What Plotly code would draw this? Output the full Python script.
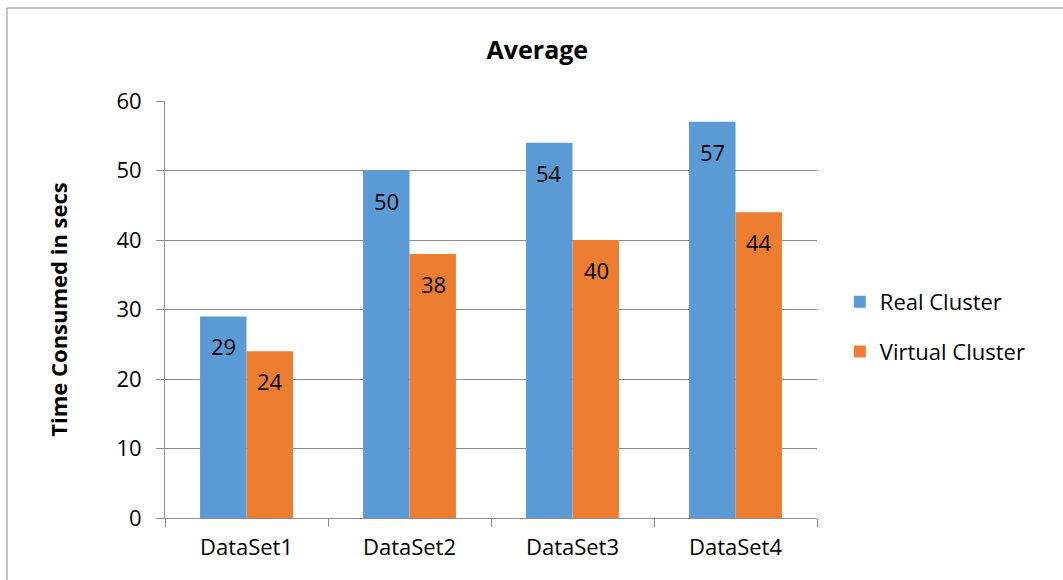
import plotly.graph_objects as go

categories = ["DataSet1", "DataSet2", "DataSet3", "DataSet4"]
real_cluster = [29, 50, 54, 57]
virtual_cluster = [24, 38, 40, 44]
y_ticks = [0, 10, 20, 30, 40, 50, 60]

FONT = "Open Sans"
BLUE = "#5B9BD5"
ORANGE = "#ED7D31"
GRID = "#8C8C8C"
SIZE = 22

fig = go.Figure()
fig.add_trace(go.Bar(name="Real Cluster", x=categories, y=real_cluster,
                     legendgroup="real",
                     marker=dict(color=BLUE, line=dict(width=0))))
fig.add_trace(go.Bar(name="Virtual Cluster", x=categories, y=virtual_cluster,
                     legendgroup="virtual",
                     marker=dict(color=ORANGE, line=dict(width=0))))

# value labels just inside the top of each bar
for i, cat in enumerate(categories):
    for vals, off in ((real_cluster, -1), (virtual_cluster, 1)):
        fig.add_annotation(x=i, xshift=off * 23.5, y=vals[i], yshift=-30,
                           text=str(vals[i]), showarrow=False,
                           font=dict(family=FONT, size=SIZE, color="#000000"),
                           xref="x", yref="y")

fig.update_layout(
    width=1063, height=580,
    margin=dict(l=165, r=246, t=101, b=62),
    paper_bgcolor="white", plot_bgcolor="white",
    barmode="group", bargap=0.43, bargroupgap=0,
    title=dict(text="<b>Average</b>", x=0.5055, xanchor="center",
               y=1 - 50 / 580, yanchor="middle",
               font=dict(family=FONT, size=25, color="#000000")),
    font=dict(family=FONT, size=SIZE, color="#000000"),
    legend=dict(x=1.035, xanchor="left", y=0.458, yanchor="middle",
                font=dict(family=FONT, size=SIZE), tracegroupgap=18,
                itemwidth=30, bgcolor="rgba(0,0,0,0)"),
    xaxis=dict(range=[-0.5, 3.5], showline=True, linecolor=GRID, linewidth=1,
               ticks="outside", tickson="boundaries", ticklen=8, tickcolor=GRID,
               showgrid=False, ticklabelstandoff=10,
               tickfont=dict(family=FONT, size=SIZE)),
    yaxis=dict(range=[0, 60], tickvals=y_ticks, showline=True, linecolor=GRID,
               linewidth=1, ticks="outside", ticklen=8, tickcolor=GRID,
               showgrid=True, gridcolor=GRID, gridwidth=1, zeroline=False,
               ticklabelstandoff=10, tickfont=dict(family=FONT, size=SIZE),
               title=dict(text="<b>Time Consumed in secs</b>", standoff=42,
                          font=dict(family=FONT, size=22))),
    shapes=[dict(type="rect", xref="paper", yref="paper",
                 x0=-158 / 652, x1=1.5, y0=-0.5, y1=1 + 93 / 417,
                 line=dict(color="#888888", width=1), fillcolor="rgba(0,0,0,0)",
                 layer="below")],
)

fig.write_html("out.html")
